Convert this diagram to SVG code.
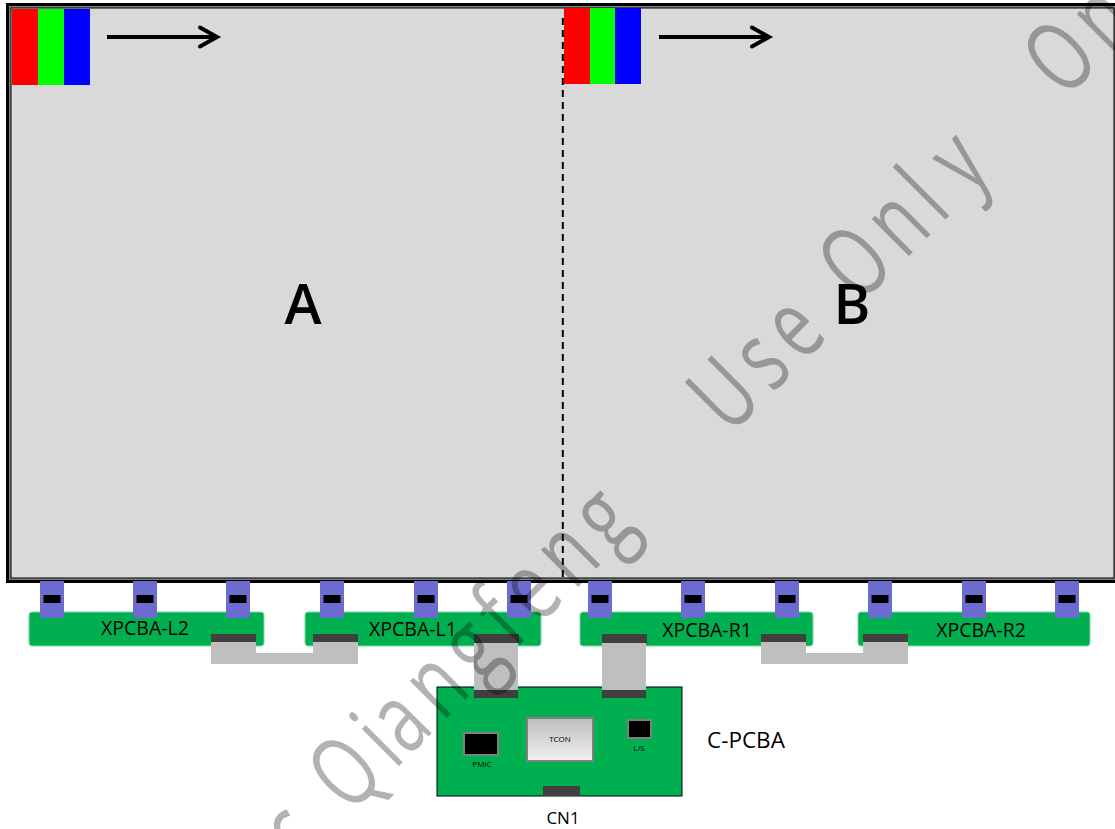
<svg xmlns="http://www.w3.org/2000/svg" width="1115" height="829" viewBox="0 0 1115 829">
<style>
.t{font-family:"Open Sans","Noto Sans",sans-serif;fill:#000}
.tab{fill:#6b6bd0}.slot{fill:#000}.dk{fill:#404040}.fpc{fill:#bfbfbf}
.pcb{fill:#00b050;stroke:#7dd8a5;stroke-width:1}
.chip{stroke:#7f7f7f;stroke-width:2}
.lbl{font-size:19.5px;text-anchor:middle}
.sm{font-size:8px;text-anchor:middle}
.wm{font-family:"Open Sans","Noto Sans",sans-serif;font-size:98px;font-weight:500;letter-spacing:14px;fill:#000;fill-opacity:.3}
</style>
<defs>
<linearGradient id="g" x1="0" y1="0" x2="0" y2="1"><stop offset="0" stop-color="#bdbdbd"/><stop offset="1" stop-color="#f0f0f0"/></linearGradient>
<g id="tabShape"><rect class="tab" x="0" y="0" width="24" height="37"/><rect class="slot" x="3.5" y="14" width="17" height="8"/></g>
</defs>
<g id="panel">
<rect x="7.5" y="4.5" width="1120" height="577" fill="#808080" stroke="#000" stroke-width="3"/>
<rect x="11" y="8" width="1103" height="570" fill="#d9d9d9" stroke="#000" stroke-width="1"/>
<rect x="12" y="9" width="26" height="76" fill="#f00"/><rect x="38" y="9" width="26" height="76" fill="#0f0"/><rect x="64" y="9" width="26" height="76" fill="#00f"/>
<rect x="564" y="8" width="26" height="76" fill="#f00"/><rect x="590" y="8" width="25" height="76" fill="#0f0"/><rect x="615" y="8" width="26" height="76" fill="#00f"/>
<text class="t" x="303" y="324" font-size="56" font-weight="600" text-anchor="middle">A</text>
<text class="t" x="852" y="324" font-size="56" font-weight="600" text-anchor="middle">B</text>
</g>
<g id="connectors" fill="none" stroke="#000">
<line x1="562.8" y1="18" x2="562.8" y2="578" stroke-width="2" stroke-dasharray="7 5"/>
<path d="M107 37H217" stroke-width="4"/><path d="M200 27.5L217 37L200 46.5" stroke-width="4" stroke-linecap="round" stroke-linejoin="miter"/>
<path d="M659 37H769" stroke-width="4"/><path d="M752 27.5L769 37L752 46.5" stroke-width="4" stroke-linecap="round" stroke-linejoin="miter"/>
</g>
<g id="xpcba-l2"><rect class="pcb" x="29" y="612" width="235" height="34" rx="3"/><text class="t lbl" x="145" y="635">XPCBA-L2</text></g>
<g id="xpcba-l1"><rect class="pcb" x="305" y="612" width="236" height="34" rx="3"/><text class="t lbl" x="413" y="636">XPCBA-L1</text></g>
<g id="xpcba-r1"><rect class="pcb" x="580" y="612" width="233" height="34" rx="3"/><text class="t lbl" x="707" y="637">XPCBA-R1</text></g>
<g id="xpcba-r2"><rect class="pcb" x="858" y="612" width="232" height="34" rx="3"/><text class="t lbl" x="981" y="637">XPCBA-R2</text></g>
<g id="tabs">
<use href="#tabShape" x="40" y="581"/><use href="#tabShape" x="133" y="581"/><use href="#tabShape" x="226" y="581"/>
<use href="#tabShape" x="320" y="581"/><use href="#tabShape" x="414" y="581"/><use href="#tabShape" x="507" y="581"/>
<use href="#tabShape" x="588" y="581"/><use href="#tabShape" x="681" y="581"/><use href="#tabShape" x="775" y="581"/>
<use href="#tabShape" x="868" y="581"/><use href="#tabShape" x="962" y="581"/><use href="#tabShape" x="1055" y="581"/>
</g>
<g id="c-pcba">
<rect x="437" y="687" width="245" height="109" fill="#00b050" stroke="#000" stroke-width="1"/>
<rect class="dk" x="543" y="786" width="37" height="10"/>
<rect x="527" y="718" width="66" height="43" fill="url(#g)" stroke="#7f7f7f" stroke-width="2"/>
<text class="t sm" x="560" y="742">TCON</text>
<rect class="chip" x="464" y="733" width="34" height="22" fill="#000"/>
<text class="t sm" x="482" y="767">PMIC</text>
<rect class="chip" x="628" y="720" width="23" height="18" fill="#000"/>
<text class="t sm" x="639" y="751">L/S</text>
<text class="t" x="707" y="748" font-size="22.5">C-PCBA</text>
<text class="t" x="563" y="824" font-size="17" text-anchor="middle">CN1</text>
</g>
<g id="cables">
<path class="fpc" d="M211 642H256V653H313V642H358V664H211Z"/>
<rect class="dk" x="211" y="634" width="45" height="8"/><rect class="dk" x="313" y="634" width="45" height="8"/>
<rect class="fpc" x="474" y="642" width="44" height="50"/><rect class="dk" x="474" y="634" width="45" height="9"/><rect class="dk" x="474" y="690" width="44" height="8"/>
<rect class="fpc" x="602" y="642" width="44" height="50"/><rect class="dk" x="602" y="634" width="45" height="9"/><rect class="dk" x="602" y="690" width="44" height="8"/>
<path class="fpc" d="M761 642H806V653H863V642H908V664H761Z"/>
<rect class="dk" x="761" y="634" width="45" height="8"/><rect class="dk" x="863" y="634" width="45" height="8"/>
</g>
<g id="watermark">
<text class="wm" transform="translate(301,867) rotate(-45) scale(.7,1)">c</text>
<text class="wm" transform="translate(350,815) rotate(-45) scale(.7,1)">Qi</text>
<text class="wm" transform="translate(408,757) rotate(-45) scale(.72,1)">angfeng</text>
<text class="wm" transform="translate(730,436) rotate(-45) scale(.7,1)">Use</text>
<text class="wm" transform="translate(860,305) rotate(-45) scale(.7,1)">Onl</text>
<text class="wm" transform="translate(969,196) rotate(-45) scale(.7,1)">y</text>
<text class="wm" transform="translate(1065,100) rotate(-45) scale(.7,1)">On</text>
</g>
</svg>
